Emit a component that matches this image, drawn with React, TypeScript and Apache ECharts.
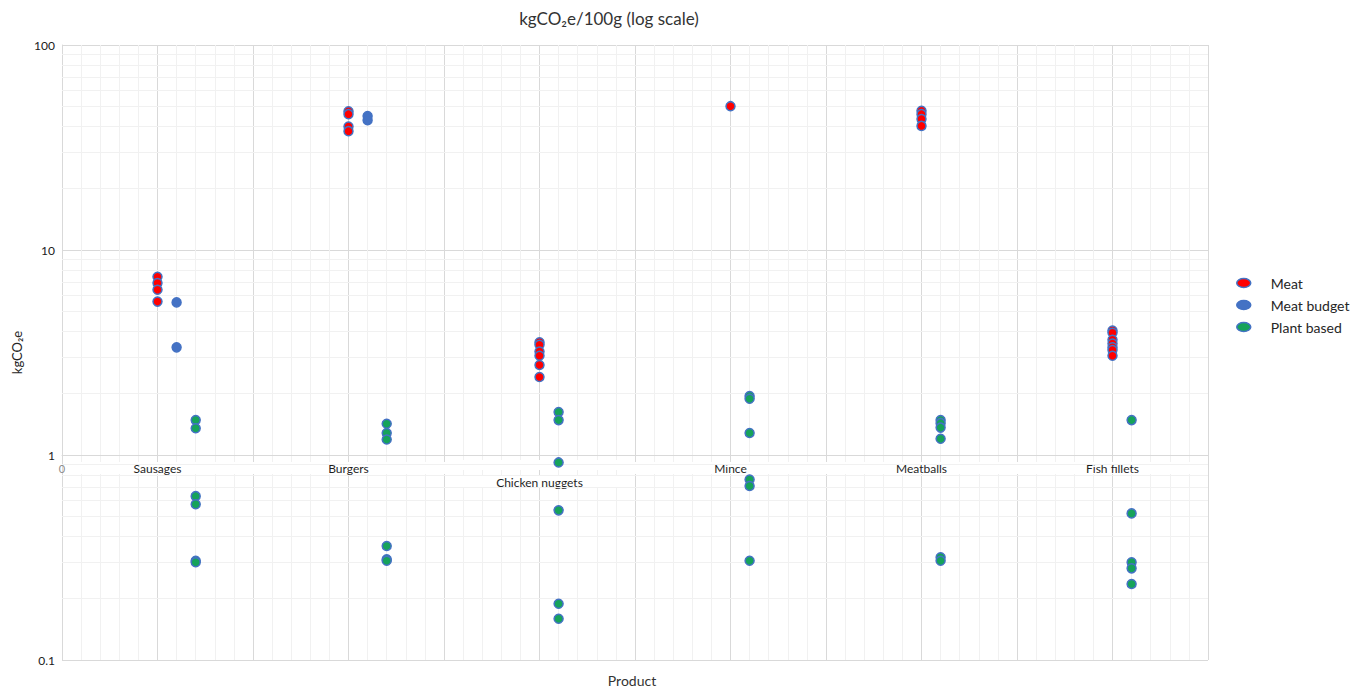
import React, { useEffect, useRef } from "react";
import * as echarts from "echarts";

const categories = ["Sausages", "Burgers", "Chicken nuggets", "Mince", "Meatballs", "Fish fillets"];

const meat: number[][] = [
  [7.4, 6.9, 6.4, 5.6],
  [47.5, 46, 40, 38],
  [3.55, 3.45, 3.2, 3.05, 2.75, 2.4],
  [50.3],
  [47.8, 46, 43.5, 40.3],
  [4.05, 3.95, 3.65, 3.5, 3.35, 3.25, 3.05],
];

const meatBudget: number[][] = [
  [5.55, 3.35],
  [45, 43],
  [],
  [],
  [],
  [],
];

const plantBased: number[][] = [
  [1.48, 1.35, 0.63, 0.575, 0.305, 0.3],
  [1.42, 1.28, 1.19, 0.36, 0.31, 0.305],
  [1.62, 1.48, 0.92, 0.537, 0.188, 0.159],
  [1.94, 1.88, 1.28, 0.76, 0.706, 0.305],
  [1.48, 1.43, 1.36, 1.2, 0.317, 0.305],
  [1.48, 0.519, 0.3, 0.28, 0.235],
];

const seriesNames = ["Meat", "Meat budget", "Plant based"];
const seriesColors = ["#FF0000", "#4472C4", "#16A35A"];
const minorYLines = [0.2, 0.3, 0.4, 0.5, 0.6, 0.7, 0.8, 0.9, 2, 3, 4, 5, 6, 7, 8, 9, 20, 30, 40, 50, 60, 70, 80, 90];

const FONT = "Lato, 'Open Sans', sans-serif";

// Points of each present series are placed side by side within a category:
// first present series at i+0.5, next at i+0.6, etc.
function buildPoints(allGroups: number[][][]) {
  const out: number[][][] = allGroups.map(() => []);
  categories.forEach((_, i) => {
    let slot = 0;
    allGroups.forEach((groups, k) => {
      const vals = groups[i] || [];
      if (vals.length === 0) return;
      const x = i + 0.5 + slot * 0.1;
      vals.forEach((v) => out[k].push([x, v]));
      slot++;
    });
  });
  return out;
}

export default function App() {
  const ref = useRef<HTMLDivElement>(null);
  useEffect(() => {
    if (!ref.current) return;
    const chart = echarts.init(ref.current, undefined, { renderer: "svg" });
    const pts = buildPoints([meat, meatBudget, plantBased]);
    const scatterSeries = seriesNames.map((name, k) => ({
      name,
      type: "scatter",
      symbol: "circle",
      symbolSize: 9,
      z: 5,
      itemStyle: { color: seriesColors[k], borderColor: "#4472C4", borderWidth: 1.5, opacity: 1 },
      data: pts[k],
    }));
    const ellipse = "path://M0 1A1 1 0 1 0 2 1A1 1 0 1 0 0 1Z";
    const labelBase = {
      fontFamily: FONT,
      fontSize: 12,
      color: "#1f1f1f",
      lineHeight: 20,
      width: 182,
      align: "center",
      backgroundColor: "#ffffff",
    };
    chart.setOption({
      animation: false,
      backgroundColor: "#ffffff",
      textStyle: { fontFamily: FONT },
      grid: { left: 62, right: 160, top: 45, bottom: 29, containLabel: false, outerBoundsMode: "none" },
      legend: {
        orient: "vertical",
        left: 1236,
        top: 276,
        padding: 0,
        itemWidth: 14,
        itemHeight: 9,
        itemGap: 8,
        symbolKeepAspect: false,
        data: seriesNames.map((n, k) => ({
          name: n,
          icon: ellipse,
          itemStyle: { color: seriesColors[k], borderColor: "#4472C4", borderWidth: 1.5 },
        })),
        textStyle: { fontFamily: FONT, fontSize: 14, color: "#262626", padding: [0, 0, 0, 15] },
      },
      graphic: [
        {
          type: "text",
          x: 609,
          y: 18,
          style: {
            text: "kgCO₂e/100g (log scale)",
            fontFamily: FONT,
            fontSize: 17,
            fill: "#333333",
            textAlign: "center",
            textVerticalAlign: "middle",
          },
        },
        {
          type: "text",
          x: 632,
          y: 680,
          style: {
            text: "Product",
            fontFamily: FONT,
            fontSize: 14,
            fill: "#333333",
            textAlign: "center",
            textVerticalAlign: "middle",
          },
        },
      ],
      xAxis: {
        type: "value",
        min: 0,
        max: 6,
        interval: 0.5,
        offset: -205,
        axisLine: { show: true, lineStyle: { color: "#d9d9d9" } },
        axisTick: { show: false },
        splitLine: { show: true, lineStyle: { color: "#d9d9d9", width: 1 } },
        minorTick: { show: false, splitNumber: 5 },
        minorSplitLine: { show: true, lineStyle: { color: "#f1f1f1", width: 1 } },
        axisLabel: {
          margin: 3,
          verticalAlign: "top",
          formatter: (v: number) => {
            const idx = Math.round(v * 2);
            if (idx === 0) return "{z|0}";
            if (idx % 2 === 1) {
              const name = categories[(idx - 1) / 2];
              if (name === "Chicken nuggets") return "{g| }\n{c|" + name + "}";
              return "{c|" + name + "}";
            }
            if (idx < 12) return "{e| }";
            return "";
          },
          rich: {
            z: { fontFamily: FONT, fontSize: 11, color: "#8c8c8c", lineHeight: 20 },
            c: labelBase,
            g: { ...labelBase, lineHeight: 14, fontSize: 10 },
            e: { fontSize: 12, lineHeight: 20, width: 16, backgroundColor: "#ffffff" },
          },
        },
      },
      yAxis: {
        type: "log",
        logBase: 10,
        min: 0.1,
        max: 100,
        name: "kgCO₂e",
        nameLocation: "middle",
        nameGap: 38,
        nameRotate: 90,
        nameTextStyle: { fontFamily: FONT, fontSize: 13, color: "#262626" },
        axisLine: { show: true, lineStyle: { color: "#d9d9d9" } },
        axisTick: { show: false },
        splitLine: { show: true, lineStyle: { color: "#d9d9d9", width: 1 } },
        axisLabel: {
          fontFamily: FONT,
          fontSize: 12,
          color: "#1a1a1a",
          margin: 7,
          formatter: (v: number) => String(v),
        },
      },
      series: [
        {
          name: "minor-grid",
          type: "line",
          data: [],
          silent: true,
          z: 0,
          markLine: {
            silent: true,
            symbol: ["none", "none"],
            label: { show: false },
            lineStyle: { color: "#f1f1f1", width: 1, type: "solid" },
            data: minorYLines.map((v) => ({ yAxis: v })),
          },
        },
        ...scatterSeries,
      ],
    });
    return () => chart.dispose();
  }, []);
  return (
    <div
      ref={ref}
      style={{ position: "fixed", left: 0, top: 0, width: 1368, height: 689 }}
    />
  );
}
